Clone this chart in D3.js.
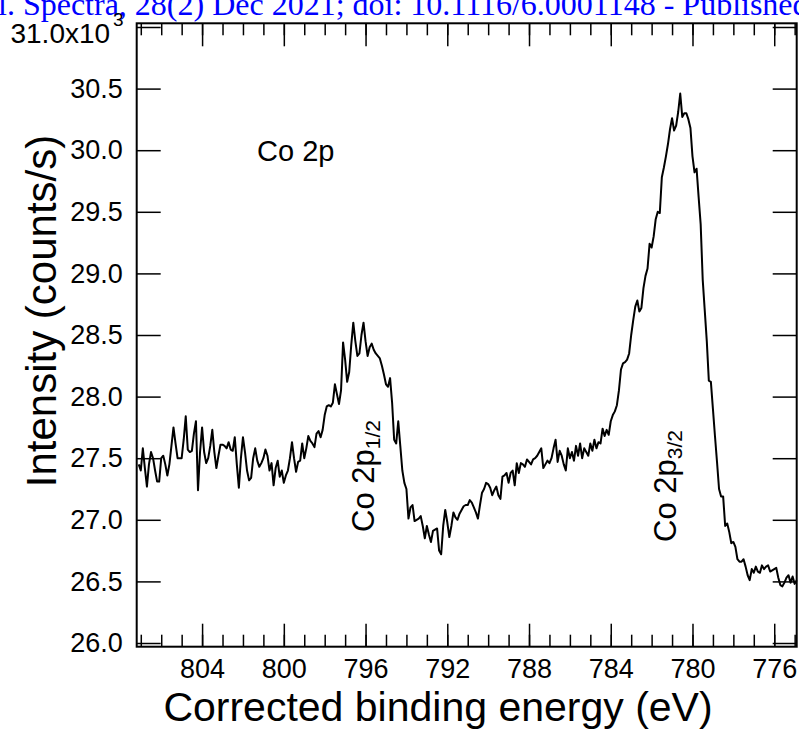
<!DOCTYPE html>
<html>
<head>
<meta charset="utf-8">
<script src="https://cdn.jsdelivr.net/npm/d3@7"></script>
<style>
  body { margin: 0; background: #fff; }
  svg text { font-family: "Liberation Sans", Arial, sans-serif; }
</style>
</head>
<body>
<div id="chart"></div>
<script>
// Co 2p spectrum, energies go from 807.1 eV down in 0.1 eV steps
const startEnergy = 807.1,
  stepEnergy = 0.1;

// intensity in 10^3 counts/s
const intensityK = [
  27.45, 27.40, 27.58, 27.42, 27.27, 27.45, 27.55, 27.50, 27.40, 27.31,
  27.31, 27.50, 27.52, 27.45, 27.36, 27.45, 27.60, 27.75, 27.62, 27.50,
  27.50, 27.50, 27.65, 27.84, 27.57, 27.55, 27.56, 27.70, 27.80, 27.24,
  27.55, 27.75, 27.55, 27.46, 27.50, 27.60, 27.73, 27.55, 27.42, 27.52,
  27.61, 27.61, 27.60, 27.58, 27.63, 27.57, 27.56, 27.67, 27.45, 27.26,
  27.50, 27.67, 27.55, 27.40, 27.32, 27.34, 27.50, 27.58, 27.48, 27.43,
  27.46, 27.50, 27.57, 27.52, 27.40, 27.46, 27.28, 27.42, 27.48, 27.35,
  27.40, 27.30, 27.36, 27.40, 27.50, 27.63, 27.50, 27.39, 27.47, 27.48,
  27.62, 27.50, 27.58, 27.68, 27.64, 27.62, 27.59, 27.70, 27.72, 27.67,
  27.73, 27.85, 27.92, 27.93, 27.92, 27.95, 28.10, 28.02, 27.94, 28.05,
  28.44, 28.30, 28.12, 28.20, 28.42, 28.60, 28.45, 28.33, 28.35, 28.50,
  28.60, 28.45, 28.33, 28.40, 28.43, 28.38, 28.35, 28.33, 28.31, 28.25,
  28.18, 28.10, 28.08, 28.15, 27.95, 27.65, 27.62, 27.80, 27.60, 27.40,
  27.30, 27.25, 27.01, 27.10, 27.12, 26.99, 27.00, 27.01, 27.03, 26.95,
  26.85, 26.95, 26.88, 26.82, 26.91, 26.92, 26.93, 26.75, 26.72, 26.95,
  27.08, 26.98, 26.86, 26.95, 27.06, 27.02, 27.00, 27.05, 27.08, 27.11,
  27.12, 27.12, 27.16, 27.14, 27.10, 27.06, 27.01, 27.12, 27.22, 27.25,
  27.30, 27.29, 27.26, 27.20, 27.24, 27.27, 27.20, 27.17, 27.35, 27.36,
  27.38, 27.30, 27.38, 27.40, 27.28, 27.46, 27.38, 27.46, 27.45, 27.43,
  27.49, 27.47, 27.45, 27.49, 27.50, 27.52, 27.55, 27.58, 27.42, 27.45,
  27.48, 27.46, 27.50, 27.58, 27.65, 27.47, 27.56, 27.52, 27.45, 27.40,
  27.58, 27.50, 27.55, 27.48, 27.60, 27.52, 27.62, 27.50, 27.58, 27.55,
  27.52, 27.62, 27.56, 27.65, 27.58, 27.63, 27.62, 27.74, 27.68, 27.73,
  27.69, 27.80, 27.85, 27.88, 27.93, 28.05, 28.22, 28.27, 28.28, 28.30,
  28.35, 28.50, 28.62, 28.73, 28.78, 28.69, 28.72, 28.88, 28.98, 29.04,
  29.24, 29.21, 29.30, 29.44, 29.50, 29.49, 29.78, 29.86, 29.95, 30.05,
  30.17, 30.26, 30.16, 30.20, 30.31, 30.46, 30.27, 30.30, 30.30, 30.25,
  30.18, 29.95, 29.82, 29.85, 29.62, 29.40, 28.95, 28.70, 28.45, 28.13,
  28.12, 27.90, 27.68, 27.47, 27.25, 27.19, 27.19, 26.95, 26.97, 26.90,
  26.81, 26.82, 26.78, 26.68, 26.66, 26.66, 26.68, 26.62, 26.55, 26.51,
  26.60, 26.57, 26.62, 26.58, 26.57, 26.63, 26.60, 26.62, 26.63, 26.58,
  26.59, 26.60, 26.61, 26.53, 26.47, 26.46, 26.49, 26.53, 26.55, 26.49,
  26.54, 26.48, 26.51,
];

const xMajorTicks = [804, 800, 796, 792, 788, 784, 780, 776];
const xMinorTicks = d3.range(807, 774, -1);
const yTicks = [26.0, 26.5, 27.0, 27.5, 28.0, 28.5, 29.0, 29.5, 30.0, 30.5, 31.0];

const peakLabels = [
  { energy: 795.6, base: 532, main: "Co 2p", sub: "1/2" },
  { energy: 780.8, base: 542, main: "Co 2p", sub: "3/2" },
];

const data = intensityK.map((v, i) => ({
  energy: +(startEnergy - i * stepEnergy).toFixed(1),
  intensity: v,
}));

const W = 799,
  H = 748;
const box = { left: 136.7, right: 796.7, top: 23.3, bottom: 646.7 };

const svg = d3
  .select("#chart")
  .append("svg")
  .attr("width", W)
  .attr("height", H);

// header line of the source page, clipped at the top
svg
  .append("text")
  .attr("x", -2)
  .attr("y", 15)
  .attr("font-size", 32)
  .style("font-family", "'Liberation Serif', 'Times New Roman', serif")
  .attr("fill", "#0000ff")
  .text("l. Spectra, 28(2) Dec 2021; doi: 10.1116/6.0001148 - Published");

const x = d3
  .scaleLinear()
  .domain([807.2, 774.9])
  .range([box.left, box.right]);

const y = d3
  .scaleLinear()
  .domain([25.97, 31.03])
  .range([box.bottom, box.top]);

const fmtY = (d) => (d === 31 ? "" : d3.format(".1f")(d));

const styleAxis = function (g) {
  g.select(".domain").remove();
  g.selectAll(".tick line").attr("stroke", "#000").attr("stroke-width", 1.5);
  g.selectAll(".tick text")
    .attr("fill", "#000")
    .attr("font-size", 27)
    .style("font-family", "'Liberation Sans', Arial, sans-serif");
};

// bottom axis
svg
  .append("g")
  .attr("transform", `translate(0, ${box.bottom})`)
  .call(d3.axisBottom(x).tickValues(xMinorTicks).tickSize(-12).tickFormat(""))
  .call(styleAxis);
svg
  .append("g")
  .attr("transform", `translate(0, ${box.bottom})`)
  .call(
    d3.axisBottom(x).tickValues(xMajorTicks).tickSize(-23).tickPadding(12).tickFormat(d3.format("d"))
  )
  .call(styleAxis);

// top axis, mirrored ticks
svg
  .append("g")
  .attr("transform", `translate(0, ${box.top})`)
  .call(d3.axisTop(x).tickValues(xMinorTicks).tickSize(-12).tickFormat(""))
  .call(styleAxis);
svg
  .append("g")
  .attr("transform", `translate(0, ${box.top})`)
  .call(d3.axisTop(x).tickValues(xMajorTicks).tickSize(-23).tickFormat(""))
  .call(styleAxis);

// left and right axes
svg
  .append("g")
  .attr("transform", `translate(${box.left}, 0)`)
  .call(d3.axisLeft(y).tickValues(yTicks).tickSize(-24).tickPadding(14).tickFormat(fmtY))
  .call(styleAxis);
svg
  .append("g")
  .attr("transform", `translate(${box.right}, 0)`)
  .call(d3.axisRight(y).tickValues(yTicks).tickSize(-24).tickFormat(""))
  .call(styleAxis);

// top label with exponent
const topLab = svg
  .append("text")
  .attr("x", box.left - 13)
  .attr("y", y(31) + 16)
  .attr("text-anchor", "end")
  .attr("font-size", 28)
  .attr("fill", "#000");
topLab.append("tspan").text("31.0x10");
topLab.append("tspan").attr("dx", 3).attr("dy", -17).attr("font-size", 19).text("3");

// frame
svg
  .append("rect")
  .attr("x", box.left)
  .attr("y", box.top)
  .attr("width", box.right - box.left)
  .attr("height", box.bottom - box.top)
  .attr("fill", "none")
  .attr("stroke", "#000")
  .attr("stroke-width", 2);

// spectrum
const line = d3
  .line()
  .x((d) => x(d.energy))
  .y((d) => y(d.intensity));

svg
  .append("path")
  .datum(data)
  .attr("fill", "none")
  .attr("stroke", "#000")
  .attr("stroke-width", 2)
  .attr("stroke-linejoin", "round")
  .attr("d", line);

// annotations
svg
  .append("text")
  .attr("x", 257)
  .attr("y", 161)
  .attr("font-size", 29)
  .attr("fill", "#000")
  .text("Co 2p");

peakLabels.forEach(function (p) {
  const t = svg
    .append("text")
    .attr("transform", `translate(${x(p.energy)}, ${p.base}) rotate(-90)`)
    .attr("font-size", 31)
    .attr("fill", "#000");
  t.append("tspan").text(p.main);
  t.append("tspan").attr("dy", 6).attr("font-size", 21).text(p.sub);
});

// axis titles
svg
  .append("text")
  .attr("x", 438)
  .attr("y", 721)
  .attr("text-anchor", "middle")
  .attr("font-size", 41)
  .attr("fill", "#000")
  .text("Corrected binding energy (eV)");

svg
  .append("text")
  .attr("transform", "translate(56, 311) rotate(-90)")
  .attr("text-anchor", "middle")
  .attr("font-size", 42)
  .attr("fill", "#000")
  .text("Intensity (counts/s)");
</script>
</body>
</html>
